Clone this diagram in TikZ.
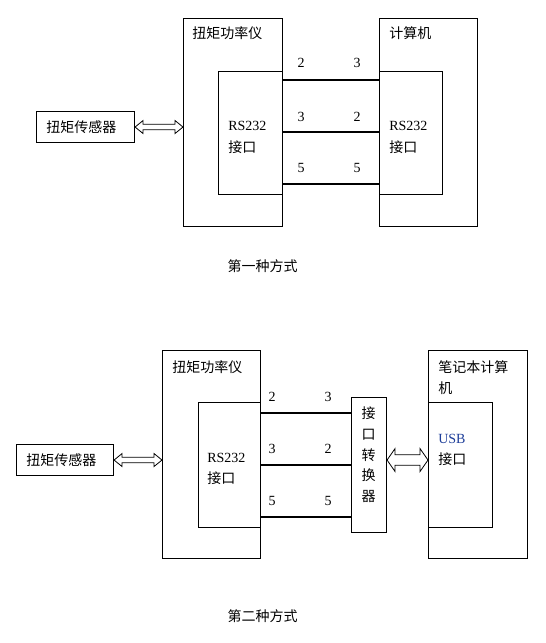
\documentclass[tikz,border=0pt]{standalone}
\usepackage{fontspec}
\setmainfont{Liberation Serif}
\newfontfamily\cjk{Noto Sans CJK SC}
\usepackage{tikz}
\usetikzlibrary{
  calc,
  positioning
}
\usepackage{xcolor}
\definecolor{usbblue}{HTML}{1F3F9A}
\newcommand{\pxl}{0.75pt}
\tikzset{
  wire/.style={draw=black, line width=0.8pt},
  block/.style={
    draw=black,
    fill=white,
    rectangle,
    line width=0.8pt,
    inner sep=0pt,
    anchor=north west
  },
  boxsize/.style 2 args={minimum width=#1*\pxl, minimum height=#2*\pxl},
  twowayarrow/.style={draw=black, fill=white, line width=0.6pt, line join=miter},
  cnlabel/.style={font=\fontsize{10.5}{16}\selectfont\cjk, inner sep=0pt, anchor=west, align=left},
  portlabel/.style={font=\fontsize{10.5}{16}\selectfont, inner sep=0pt, anchor=west, align=left},
  pinlabel/.style={font=\fontsize{10.5}{12}\selectfont, inner sep=0pt},
  caption/.style={cnlabel, anchor=center}
}
% hollow two-way arrow: left end, right end, shaft half width, head half width
\newcommand{\twoway}[4]{%
  \draw[twowayarrow] (#1) -- ++(8,-#4) -- ++(0,#4-#3) -- ($(#2)+(-8,-#3)$)
    -- ++(0,#3-#4) -- (#2) -- ++(-8,#4) -- ++(0,#3-#4) -- ($(#1)+(8,#3)$)
    -- ++(0,#4-#3) -- cycle;
}

\begin{document}
\begin{tikzpicture}[x=0.75pt, y=-0.75pt]
  \useasboundingbox (0,0) rectangle (546,643);

  % first way
  \node[block, boxsize={98}{31}] (sensorA) at (36,111) {};
  \node[block, boxsize={99}{208}] (meterA) at (183,18) {};
  \node[block, boxsize={64}{123}] (portA) at (218,71) {};
  \node[block, boxsize={98}{208}] (pcA) at (379,18) {};
  \node[block, boxsize={63}{123}] (pcportA) at (379,71) {};

  \node[cnlabel] (sensorAtxt) at (46,127) {扭矩传感器};
  \node[cnlabel] (meterAtxt) at (192,33) {扭矩功率仪};
  \node[portlabel] (portAtxt) at (228,137.5) {RS232\\\cjk 接口};
  \node[cnlabel] (pcAtxt) at (389,33) {计算机};
  \node[portlabel] (pcportAtxt) at (389,137.5) {RS232\\\cjk 接口};

  \coordinate (arrAl) at (sensorA.east);
  \coordinate (arrAr) at (meterA.west |- sensorA.east);
  \twoway{arrAl}{arrAr}{2.8}{6.5}

  \coordinate (wa1) at ($(portA.north east)+(0,9)$);
  \coordinate (wa2) at ($(portA.north east)+(0,61)$);
  \coordinate (wa3) at ($(portA.north east)+(0,113)$);
  \draw[wire] (wa1) -- (wa1 -| pcportA.west);
  \draw[wire] (wa2) -- (wa2 -| pcportA.west);
  \draw[wire] (wa3) -- (wa3 -| pcportA.west);

  \node[pinlabel] (pa1l) at (301,63) {2};
  \node[pinlabel] (pa1r) at (357,63) {3};
  \node[pinlabel] (pa2l) at (301,117) {3};
  \node[pinlabel] (pa2r) at (357,117) {2};
  \node[pinlabel] (pa3l) at (301,168) {5};
  \node[pinlabel] (pa3r) at (357,168) {5};

  \node[caption] (capA) at (262.5,266) {第一种方式};

  % second way
  \node[block, boxsize={97}{31}] (sensorB) at (16,444) {};
  \node[block, boxsize={98}{208}] (meterB) at (162,350) {};
  \node[block, boxsize={62}{125}] (portB) at (198,402) {};
  \node[block, boxsize={35}{135}] (conv) at (351,397) {};
  \node[block, boxsize={99}{208}] (laptop) at (428,350) {};
  \node[block, boxsize={64}{125}] (usbport) at (428,402) {};

  \node[cnlabel] (sensorBtxt) at (26,460.5) {扭矩传感器};
  \node[cnlabel] (meterBtxt) at (172,367) {扭矩功率仪};
  \node[portlabel] (portBtxt) at (207,469) {RS232\\\cjk 接口};
  \node[cnlabel, font=\fontsize{10.5}{15.5}\selectfont\cjk, anchor=center, align=center] (convtxt) at (368.5,455) {接\\口\\转\\换\\器};
  \node[cnlabel] (laptoptxt) at (438,377.5) {笔记本计算\\机};
  \node[portlabel] (usbtxt) at (438,450) {\textcolor{usbblue}{USB}\\\cjk 接口};

  \coordinate (arrBl) at ($(sensorB.east)+(0,0)$);
  \coordinate (arrBr) at (meterB.west |- sensorB.east);
  \twoway{arrBl}{arrBr}{2.8}{6.5}

  \coordinate (arrCl) at ($(conv.east)+(0,-5)$);
  \coordinate (arrCr) at (laptop.west |- arrCl);
  \twoway{arrCl}{arrCr}{5.3}{11.5}

  \coordinate (wb1) at ($(portB.north east)+(0,11)$);
  \coordinate (wb2) at ($(portB.north east)+(0,63)$);
  \coordinate (wb3) at ($(portB.north east)+(0,115)$);
  \draw[wire] (wb1) -- (wb1 -| conv.west);
  \draw[wire] (wb2) -- (wb2 -| conv.west);
  \draw[wire] (wb3) -- (wb3 -| conv.west);

  \node[pinlabel] (pb1l) at (272,397) {2};
  \node[pinlabel] (pb1r) at (328,397) {3};
  \node[pinlabel] (pb2l) at (272,449) {3};
  \node[pinlabel] (pb2r) at (328,449) {2};
  \node[pinlabel] (pb3l) at (272,501) {5};
  \node[pinlabel] (pb3r) at (328,501) {5};

  \node[caption] (capB) at (262.5,616) {第二种方式};
\end{tikzpicture}
\end{document}
